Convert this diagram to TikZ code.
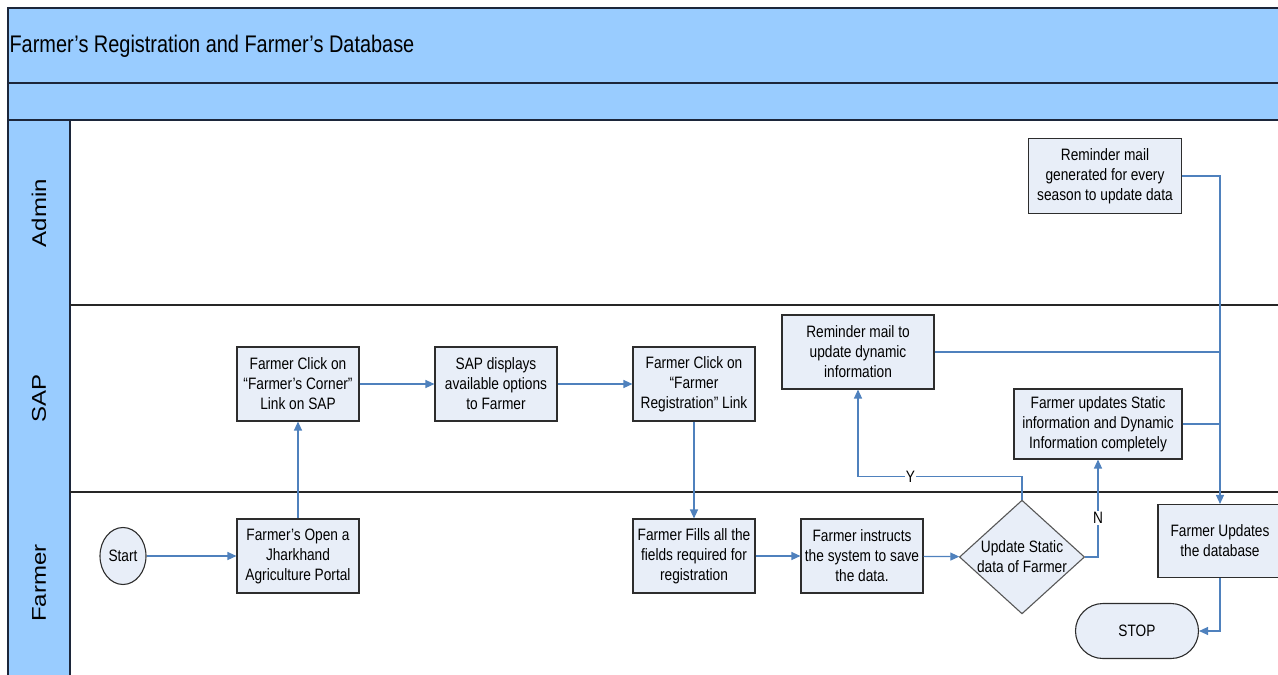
\documentclass[tikz,border=0pt]{standalone}
\usepackage{fontspec}
\setmainfont[FakeStretch=0.83]{Liberation Sans}
\newfontfamily\lanefont{Liberation Sans}
\usepackage{graphicx}
\usepackage{tikz}
\usetikzlibrary{shapes.geometric,shapes.misc}
\usetikzlibrary{arrows.meta}
\definecolor{lanefill}{RGB}{153,204,255}
\definecolor{laneline}{RGB}{28,38,58}
\definecolor{boxfill}{RGB}{232,238,248}
\definecolor{boxline}{RGB}{45,45,45}
\definecolor{flowblue}{RGB}{79,129,189}
\tikzset{band/.style={fill=lanefill, draw=laneline, line width=1.6pt}}
\tikzset{lane sep/.style={draw=black!85, line width=1.5pt}}
\tikzset{lane label/.style={rotate=90, font=\lanefont\fontsize{24}{28}\selectfont}}
\tikzset{process node/.style={rectangle, draw=boxline, fill=boxfill, line width=1.1pt,
    minimum width=#1, minimum height=74pt, inner sep=0pt, align=center,
    font=\fontsize{16.5}{20}\selectfont}}
\tikzset{process node/.default=122pt}
\tikzset{decision node/.style={diamond, draw=boxline!80, fill=boxfill, line width=1.1pt,
    shape aspect=1.1, inner sep=0pt, minimum width=121pt, minimum height=110pt,
    align=center, font=\fontsize{16.5}{20}\selectfont}}
\tikzset{terminal node/.style={draw=boxline, fill=boxfill, line width=1.1pt, inner sep=0pt,
    font=\fontsize{16.5}{20}\selectfont}}
\tikzset{flow edge/.style={draw=flowblue, line width=1.2pt, -{Triangle[length=9pt,width=8pt]}}}
\tikzset{join edge/.style={draw=flowblue, line width=1.2pt}}
\tikzset{branch label/.style={fill=white, inner sep=1pt, font=\fontsize{16.5}{18}\selectfont}}

\begin{document}
\begin{tikzpicture}[x=1pt, y=-1pt]
  \path [use as bounding box, clip] (0,0) rectangle (1278,675);

  % swimlanes
  \draw [band] (8,  8) rectangle (1290, 83);
  \draw [band] (8, 83) rectangle (1290,120);
  \draw [band] (8,120) rectangle (  70,690);
  \draw [lane sep] (70,305) -- (1290,305);
  \draw [lane sep] (70,492) -- (1290,492);

  \node [anchor=west, font=\fontsize{24}{28}\selectfont] (title) at (6, 46)
        {Farmer's Registration and Farmer's Database};
  \node [lane label] (admin)  at (39,213) {\scalebox{1}[0.83]{Admin}};
  \node [lane label] (sap)    at (39,398) {\scalebox{1}[0.83]{SAP}};
  \node [lane label] (farmer) at (39,583) {\scalebox{1}[0.83]{Farmer}};

  % steps
  \node [terminal node, ellipse, minimum width=46pt, minimum height=57pt]
                                (start)     at ( 123,556) {Start};
  \node [process node]          (open)      at ( 298,556) {Farmer's Open a\\Jharkhand\\Agriculture Portal};
  \node [process node]          (corner)    at ( 298,384) {Farmer Click on\\``Farmer's Corner''\\Link on SAP};
  \node [process node]          (options)   at ( 496,384) {SAP displays\\available options\\to Farmer};
  \node [process node]          (reglink)   at ( 694,384) {Farmer Click on\\``Farmer\\Registration'' Link};
  \node [process node]          (fills)     at ( 694,556) {Farmer Fills all the\\fields required for\\registration};
  \node [process node]          (save)      at ( 862,556) {Farmer instructs\\the system to save\\the data.};
  \node [decision node]         (static)    at (1022,557) {Update Static\\data of Farmer};
  \node [process node=152pt]    (remdyn)    at ( 858,352) {Reminder mail to\\update dynamic\\information};
  \node [process node=168pt, minimum height=70pt]
                                (updall)    at (1098,424) {Farmer updates Static\\information and Dynamic\\Information completely};
  \node [process node=153pt, minimum height=75pt]
                                (remseason) at (1105,176) {Reminder mail\\generated for every\\season to update data};
  \node [process node=124pt, minimum height=73pt]
                                (upddb)     at (1220,541) {Farmer Updates\\the database};
  \node [terminal node, rounded rectangle, minimum width=123pt, minimum height=55pt]
                                (stop)      at (1137,631) {STOP};

  % flow
  \draw [flow edge] (start)   -- (open);
  \draw [flow edge] (open)    -- (corner);
  \draw [flow edge] (corner)  -- (options);
  \draw [flow edge] (options) -- (reglink);
  \draw [flow edge] (reglink) -- (fills);
  \draw [flow edge] (fills)   -- (save);
  \draw [flow edge] (save)    -- (static);
  \draw [flow edge] (static.north) -- ++(0,-23) -| node [branch label, pos=0.34] {Y} (remdyn.south);
  \draw [flow edge] (static.east)  -| node [branch label, pos=0.70] {N} (updall.south);
  \draw [flow edge] (remseason.east) -| (upddb.north);
  \draw [join edge] (remdyn.east) -- (remdyn.east -| upddb.north);
  \draw [join edge] (updall.east) -- (updall.east -| upddb.north);
  \draw [flow edge] (upddb.south) |- (stop.east);
\end{tikzpicture}
\end{document}
